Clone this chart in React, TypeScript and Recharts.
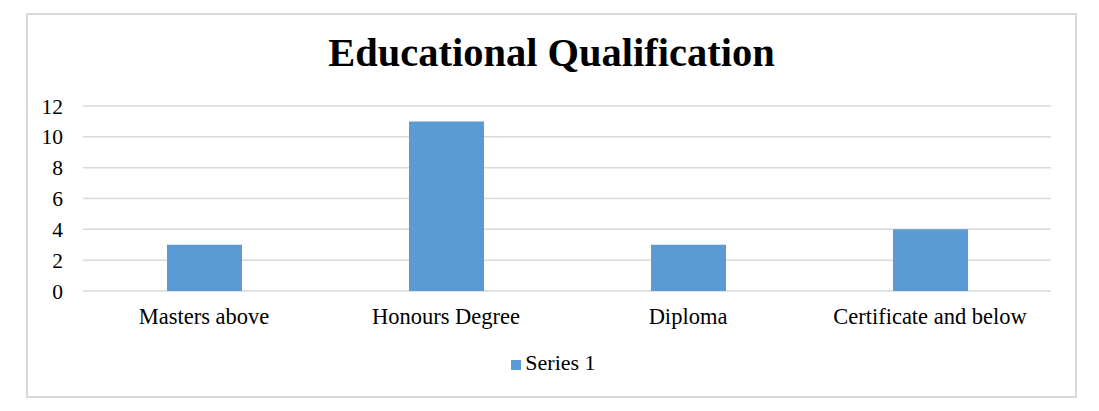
import { Bar, BarChart, CartesianGrid, Legend, XAxis, YAxis } from "recharts";

const categories = ["Masters above", "Honours Degree", "Diploma", "Certificate and below"];
const series1 = [3, 11, 3, 4];
const yTicks = [0, 2, 4, 6, 8, 10, 12];

const data = categories.map((name, i) => ({ name, value: series1[i] }));

const FONT = '"Liberation Serif", "Times New Roman", serif';

export default function App() {
  return (
    <div
      style={{
        position: "absolute",
        left: 0,
        top: 0,
        width: 1099,
        height: 411,
        background: "#fff",
        fontFamily: FONT,
      }}
    >
      {/* chart frame */}
      <div
        style={{
          position: "absolute",
          left: 26,
          top: 13,
          width: 1051,
          height: 385,
          border: "2px solid #d9d9d9",
          boxSizing: "border-box",
        }}
      />
      <div
        style={{
          position: "absolute",
          left: 26,
          top: 33,
          width: 1051,
          textAlign: "center",
          fontSize: 40.5,
          lineHeight: "40px",
          fontWeight: "bold",
          color: "#000",
        }}
      >
        Educational Qualification
      </div>
      <BarChart
        width={1099}
        height={411}
        data={data}
        margin={{ top: 106, right: 48, bottom: 64, left: 0 }}
        style={{ position: "absolute", left: 0, top: 0 }}
      >
        <CartesianGrid vertical={false} stroke="#d9d9d9" strokeWidth={1.5} />
        <XAxis
          dataKey="name"
          axisLine={false}
          tickLine={false}
          tickMargin={11}
          tick={{ fontSize: 22.5, fill: "#000", fontFamily: FONT }}
          interval={0}
        />
        <YAxis
          width={83}
          domain={[0, 12]}
          ticks={yTicks}
          interval={0}
          axisLine={false}
          tickLine={false}
          tickMargin={14}
          tick={{ fontSize: 21.5, fill: "#000", fontFamily: FONT }}
        />
        <Legend
          iconType="square"
          iconSize={10}
          wrapperStyle={{ position: "absolute", top: 350, left: 9, width: 1099, fontSize: 22, fontFamily: FONT }}
          formatter={(v) => <span style={{ color: "#000" }}>{v}</span>}
        />
        <Bar dataKey="value" name="Series 1" fill="#5b9bd5" barSize={75} isAnimationActive={false} />
      </BarChart>
    </div>
  );
}
